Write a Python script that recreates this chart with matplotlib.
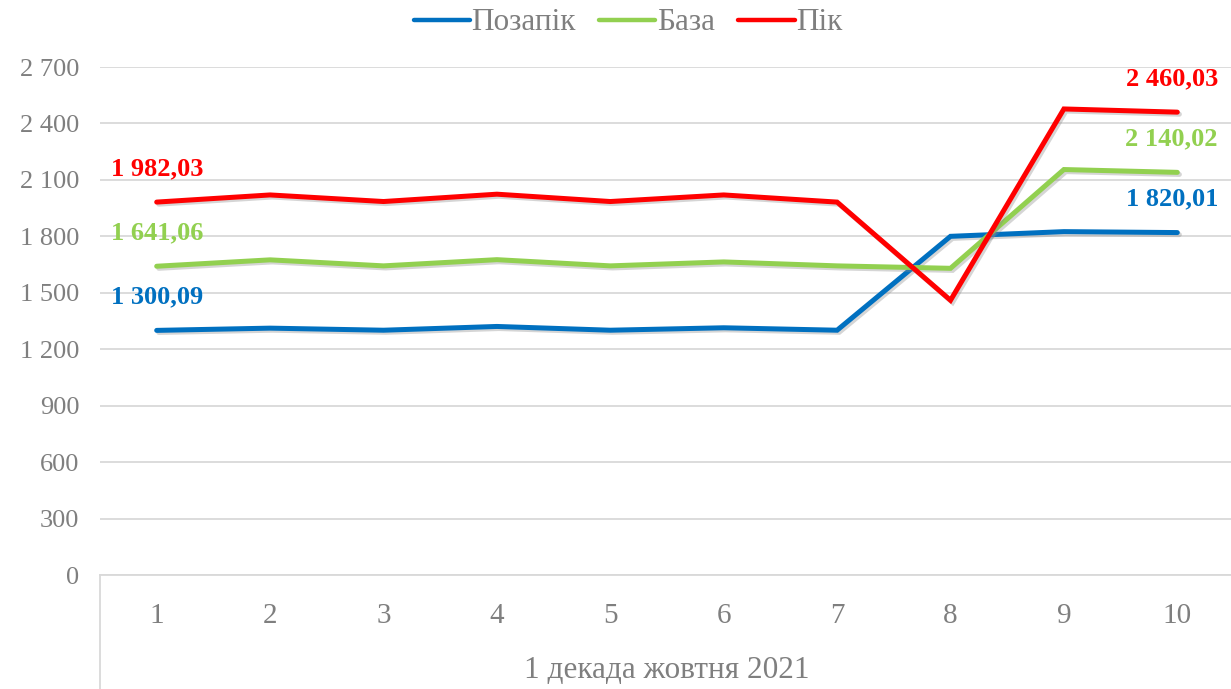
import matplotlib
matplotlib.use("Agg")
import matplotlib.pyplot as plt
from matplotlib.lines import Line2D
import matplotlib.patheffects as pe

days = [1, 2, 3, 4, 5, 6, 7, 8, 9, 10]
pozapik = [1300.09, 1312, 1301, 1321, 1301, 1314, 1301, 1800, 1825, 1820.01]
baza = [1641.06, 1675, 1643, 1676, 1643, 1664, 1643, 1630, 2155, 2140.02]
pik = [1982.03, 2020, 1985, 2024, 1985, 2020, 1982, 1460, 2477, 2460.03]
series_names = ["Позапік", "База", "Пік"]
colors = ["#0070c0", "#92d050", "#ff0000"]
yticks = [0, 300, 600, 900, 1200, 1500, 1800, 2100, 2400, 2700]
group_label = "1 декада жовтня 2021"

plt.rcParams['font.family'] = ['Liberation Serif', 'DejaVu Serif']

W, H = 1231, 689
fig = plt.figure(figsize=(W / 100, H / 100), dpi=100)
ax = fig.add_axes([100 / W, (H - 575) / H, (1234 - 100) / W, (575 - 67) / H])
ax.set_xlim(0.5, 10.5)
ax.set_ylim(0, 2700)

ax.set_yticks(yticks)
ax.set_yticklabels([f"{v:,}".replace(",", " ") for v in yticks])
ax.set_xticks(days)
ax.set_xticklabels([str(d) for d in days])
ax.grid(axis='y', color='#d9d9d9', lw=1.3)
ax.set_axisbelow(True)
for s in ['left', 'right', 'top']:
    ax.spines[s].set_visible(False)
ax.spines['bottom'].set_color('#d9d9d9')
ax.spines['bottom'].set_linewidth(1.3)
ax.tick_params(axis='y', length=0, labelsize=19, labelcolor='#7f7f7f', pad=15)
ax.tick_params(axis='x', length=0, labelsize=21, labelcolor='#7f7f7f', pad=20)

shadow = [pe.SimpleLineShadow(offset=(1.5, -1.5), shadow_color='#888888', alpha=0.35), pe.Normal()]
for vals, name, c in zip([pozapik, baza, pik], series_names, colors):
    ax.plot(days, vals, color=c, lw=3.6, label=name, solid_capstyle='round',
            solid_joinstyle='miter', path_effects=shadow)
    for i, dx in ((0, 0), (len(days) - 1, -4)):
        ax.annotate(f"{vals[i]:,.2f}".replace(",", " ").replace(".", ","),
                    (days[i], vals[i]), xytext=(dx, 24), textcoords='offset points',
                    ha='center', va='center', fontsize=19, fontweight='bold', color=c)

# group separator line and label
ax.add_line(Line2D([0, 0], [0, -(689 - 575) / (575 - 67)], transform=ax.transAxes,
                   color='#d9d9d9', lw=1.3, clip_on=False))
fig.text(667 / W, 1 - 670 / H, group_label, ha='center', va='center', fontsize=22.5, color='#7f7f7f')

leg = fig.legend(loc='center', bbox_to_anchor=(628 / W, 1 - 23 / H), ncol=3, frameon=False,
                 fontsize=22.5, handlelength=1.8, handletextpad=0.05, columnspacing=0.75)
for t in leg.get_texts():
    t.set_color('#7f7f7f')
for h in leg.get_lines():
    h.set_linewidth(3.2)
    h.set_path_effects([])

fig.savefig("out.png", dpi=100)
